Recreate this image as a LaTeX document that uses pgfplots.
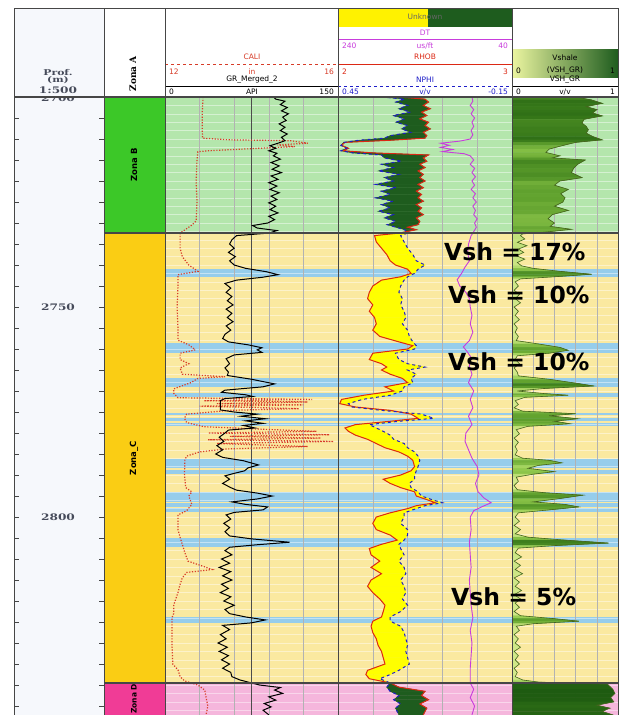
\documentclass[border=0pt]{standalone}
\usepackage{pgfplots}
\usepackage{pgfplotstable}
\pgfplotsset{compat=1.18}
\usepackage{fontspec}
\setmainfont{DejaVu Sans}
\newfontfamily\serifb{DejaVu Serif}

\definecolor{bgB}{RGB}{180,230,172}
\definecolor{bgC}{RGB}{250,233,160}
\definecolor{bgD}{RGB}{245,182,220}
\definecolor{band}{RGB}{150,205,235}
\definecolor{znB}{RGB}{60,200,40}
\definecolor{znC}{RGB}{250,205,20}
\definecolor{znD}{RGB}{240,60,150}
\definecolor{calic}{RGB}{215,60,40}
\definecolor{rhobc}{RGB}{220,40,20}
\definecolor{nphic}{RGB}{30,30,200}
\definecolor{dtc}{RGB}{200,60,220}
\definecolor{shgreen}{RGB}{30,92,30}
\definecolor{vshline}{RGB}{70,100,30}
\definecolor{framec}{RGB}{70,70,70}
\definecolor{depthc}{RGB}{70,75,90}
\definecolor{depthbg}{RGB}{246,248,252}
\definecolor{vshlight}{RGB}{235,245,160}

% GR (API)
\pgfplotstableread{
d gr
2700.0 94
2700.5 96
2701.0 104
2701.8 100
2702.5 106
2703.3 101
2704.0 107
2704.8 102
2705.6 105
2706.4 99
2707.2 104
2708.0 100
2708.8 106
2709.6 101
2710.4 104
2711.0 98
2711.6 91
2712.2 96
2712.8 90
2713.4 97
2714.0 94
2714.8 100
2715.6 92
2716.4 99
2717.2 93
2718.0 101
2718.8 92
2719.6 98
2720.4 90
2721.2 97
2722.0 91
2722.8 99
2723.6 92
2724.4 97
2725.2 90
2726.0 96
2726.8 91
2727.6 98
2728.4 90
2729.2 95
2730.0 89
2730.6 76
2731.2 80
2731.8 97
2732.4 90
2733.0 62
2734.0 58
2735.0 56
2736.0 60
2737.0 55
2738.0 61
2739.0 56
2740.0 60
2740.8 70
2741.6 88
2742.3 98
2742.9 85
2743.6 62
2744.4 52
2745.5 57
2746.5 53
2747.5 58
2748.5 54
2749.5 59
2750.5 53
2751.5 58
2752.5 54
2753.5 59
2754.5 53
2755.5 57
2756.5 52
2757.5 50
2758.3 55
2759.0 72
2759.7 84
2760.2 80
2760.8 84
2761.4 60
2762.3 53
2763.5 56
2764.5 52
2765.5 55
2766.3 54
2767.2 75
2768.3 95
2769.0 85
2769.8 52
2770.3 49
2770.9 70
2771.3 76
2771.8 52
2772.3 48
2773.5 48
2774.5 48
2775.0 60
2775.5 80
2776.0 66
2776.6 87
2777.1 70
2777.7 85
2778.2 68
2778.8 78
2779.3 55
2780.0 52
2781.0 47
2782.0 51
2783.0 45
2784.0 50
2785.0 44
2785.8 50
2786.6 68
2787.6 81
2788.3 72
2789.0 69
2789.6 60
2790.2 52
2791.0 56
2792.0 50
2793.0 57
2793.6 62
2794.3 80
2795.0 93
2795.7 80
2796.4 58
2797.0 70
2797.6 89
2798.3 85
2798.9 60
2799.5 53
2800.5 57
2801.5 51
2802.5 56
2803.5 52
2804.5 56
2805.2 75
2806.0 108
2806.6 80
2807.2 56
2808.0 52
2809.0 58
2810.0 49
2811.0 56
2812.0 47
2813.0 57
2814.0 50
2815.0 58
2816.0 49
2817.0 55
2818.0 48
2819.0 57
2820.0 51
2821.0 60
2822.0 52
2823.0 56
2823.8 70
2824.5 87
2825.2 75
2825.8 50
2826.8 56
2828.0 48
2829.0 53
2830.0 46
2831.0 54
2832.0 47
2833.0 55
2834.0 49
2835.0 56
2836.0 50
2837.0 57
2838.0 58
2838.8 65
2839.5 75
2840.0 82
2840.6 100
2841.2 95
2842.0 102
2842.8 90
2843.6 96
2844.4 86
2845.2 92
2846.0 85
2847.1 90
}\grtab

% CALI (in)
\pgfplotstableread{
d cali
2700.0 12.88
2704.0 12.86
2708.0 12.86
2709.8 12.87
2710.2 13.50
2710.4 14.90
2711.0 15.30
2711.4 14.60
2711.8 15.00
2712.3 14.00
2712.8 13.00
2713.0 12.76
2715.0 12.74
2720.0 12.72
2725.0 12.74
2729.5 12.72
2730.5 12.62
2732.4 12.35
2736.0 12.35
2738.0 12.40
2740.0 12.55
2741.5 12.76
2742.3 12.30
2745.0 12.30
2750.0 12.28
2755.0 12.30
2757.9 12.30
2759.0 12.55
2760.2 12.70
2761.0 12.35
2762.5 12.35
2763.5 12.55
2764.5 12.35
2766.0 12.40
2766.6 13.39
2767.0 12.76
2768.0 12.60
2769.5 12.20
2770.5 12.20
2771.6 12.30
2772.0 15.40
2772.3 12.90
2772.6 15.30
2773.0 13.20
2773.3 15.20
2773.6 12.80
2774.2 15.10
2774.6 13.50
2775.5 12.50
2776.5 12.45
2777.5 12.50
2778.5 12.90
2779.2 14.50
2779.6 15.50
2780.0 13.00
2780.4 15.80
2780.8 13.50
2781.2 15.60
2781.6 13.00
2782.0 15.90
2782.5 13.20
2783.2 15.30
2783.8 13.40
2784.5 12.80
2785.5 12.50
2786.4 12.46
2790.0 12.45
2793.0 12.48
2794.0 12.62
2795.0 12.55
2797.0 12.62
2798.5 12.50
2799.5 12.30
2803.0 12.30
2805.2 12.36
2806.5 12.40
2808.5 12.46
2810.5 12.53
2811.8 12.90
2812.5 13.09
2813.2 12.50
2814.5 12.40
2816.0 12.35
2818.0 12.30
2821.0 12.20
2823.0 12.20
2824.0 12.16
2830.0 12.16
2835.0 12.18
2836.4 12.30
2838.0 12.35
2839.0 12.45
2840.0 12.76
2841.2 12.92
2843.0 12.95
2845.0 12.99
2847.1 12.95
}\calitab

% RHOB (g/cc) and NPHI (v/v)
\pgfplotstableread{
d rhob nphi
2700.0 2.35 0.30
2700.5 2.50 0.22
2701.2 2.52 0.25
2702.0 2.49 0.21
2702.8 2.53 0.24
2703.6 2.48 0.20
2704.4 2.51 0.26
2705.2 2.47 0.22
2706.0 2.52 0.25
2706.8 2.50 0.21
2707.6 2.53 0.23
2708.4 2.49 0.20
2709.2 2.51 0.27
2709.8 2.50 0.29
2710.3 2.30 0.38
2710.8 2.04 0.43
2711.5 2.02 0.44
2712.2 2.06 0.42
2712.8 2.03 0.44
2713.3 2.20 0.40
2713.8 2.52 0.30
2714.5 2.49 0.29
2715.3 2.51 0.23
2716.0 2.47 0.30
2716.8 2.50 0.26
2717.6 2.46 0.31
2718.4 2.49 0.24
2719.2 2.47 0.29
2720.0 2.50 0.26
2720.8 2.46 0.32
2721.6 2.49 0.25
2722.4 2.45 0.30
2723.2 2.48 0.27
2724.0 2.46 0.32
2724.8 2.49 0.26
2725.6 2.45 0.30
2726.4 2.48 0.27
2727.2 2.46 0.31
2728.0 2.49 0.26
2728.8 2.45 0.29
2729.6 2.47 0.25
2730.4 2.46 0.28
2731.0 2.40 0.25
2731.6 2.45 0.22
2732.4 2.35 0.21
2733.0 2.21 0.234
2734.5 2.22 0.222
2736.0 2.25 0.21
2737.5 2.28 0.192
2739.0 2.30 0.18
2740.0 2.33 0.15
2741.0 2.40 0.174
2742.0 2.42 0.186
2742.8 2.36 0.21
2743.6 2.25 0.222
2745.0 2.20 0.234
2746.5 2.18 0.24
2748.0 2.17 0.228
2749.5 2.20 0.234
2751.0 2.18 0.222
2752.5 2.21 0.216
2754.0 2.22 0.228
2755.5 2.20 0.21
2757.0 2.24 0.204
2758.3 2.35 0.192
2759.2 2.43 0.18
2760.0 2.40 0.186
2761.0 2.20 0.252
2762.5 2.18 0.24
2763.5 2.25 0.21
2764.3 2.28 0.15
2765.0 2.25 0.21
2766.0 2.30 0.18
2767.0 2.37 0.198
2768.0 2.40 0.192
2769.0 2.27 0.222
2770.0 2.32 0.228
2771.0 2.15 0.27
2772.0 2.02 0.366
2773.0 2.01 0.414
2773.8 2.10 0.402
2774.6 2.30 0.30
2775.5 2.42 0.162
2776.5 2.46 0.12
2777.2 2.30 0.24
2778.0 2.10 0.342
2778.8 2.04 0.318
2779.6 2.06 0.294
2780.5 2.10 0.27
2781.5 2.17 0.258
2782.5 2.22 0.222
2783.5 2.27 0.21
2784.5 2.35 0.186
2785.5 2.40 0.174
2786.5 2.43 0.168
2788.0 2.44 0.174
2789.0 2.42 0.18
2790.0 2.36 0.186
2791.0 2.26 0.186
2792.0 2.30 0.204
2793.0 2.36 0.198
2794.0 2.44 0.174
2795.0 2.45 0.162
2796.0 2.52 0.12
2796.6 2.56 0.09
2797.3 2.45 0.15
2798.0 2.40 0.18
2799.0 2.30 0.222
2800.0 2.22 0.222
2801.5 2.20 0.234
2803.0 2.22 0.21
2804.3 2.30 0.21
2805.5 2.34 0.222
2806.5 2.25 0.24
2807.5 2.18 0.234
2809.0 2.19 0.222
2810.5 2.24 0.24
2812.0 2.19 0.222
2813.5 2.25 0.216
2815.0 2.19 0.234
2816.5 2.17 0.222
2818.0 2.20 0.216
2819.5 2.24 0.228
2821.0 2.27 0.21
2822.5 2.26 0.234
2823.8 2.25 0.27
2824.8 2.20 0.27
2826.0 2.19 0.234
2827.5 2.20 0.222
2829.0 2.22 0.216
2830.5 2.23 0.21
2832.0 2.25 0.216
2833.5 2.26 0.21
2835.0 2.27 0.204
2836.5 2.17 0.24
2837.5 2.16 0.27
2838.5 2.18 0.306
2839.5 2.30 0.27
2840.5 2.35 0.282
2841.5 2.50 0.27
2842.5 2.48 0.24
2843.5 2.52 0.258
2844.5 2.47 0.234
2845.5 2.51 0.252
2847.1 2.49 0.24
}\rntab
% two-row mesh: row 1 = RHOB position, row 2 = NPHI position (track-2 scale 0..1)
\pgfplotstablegetrowsof{\rntab}\edef\nrn{\pgfplotsretval}
\pgfplotstablevertcat{\rnall}{\rntab}
\pgfplotstablevertcat{\rnall}{\rntab}
\pgfplotstablecreatecol[create col/expr={\pgfplotstablerow<\nrn ? \thisrow{rhob}-2 : (0.45-\thisrow{nphi})/0.6}]{xx}\rnall
\pgfplotstablecreatecol[create col/expr={\thisrow{d}<2732.35 ? 0 : (\thisrow{d}<2732.45 ? 0.5 : (\thisrow{d}<2839.45 ? 1 : (\thisrow{d}<2839.55 ? 0.5 : 0)))}]{zf}\rnall

% DT (us/ft)
\pgfplotstableread{
d dt
2700.0 86
2701.0 85
2702.0 88
2703.0 84
2704.0 87
2705.0 83
2706.0 86
2707.0 84
2708.0 87
2709.0 85
2710.0 88
2710.5 100
2711.0 122
2711.5 112
2712.0 122
2712.5 108
2713.0 120
2713.5 95
2714.0 88
2715.0 84
2716.0 88
2717.0 83
2718.0 86
2719.0 82
2720.0 86
2721.0 83
2722.0 87
2723.0 82
2724.0 85
2725.0 81
2726.0 85
2727.0 82
2728.0 84
2729.0 80
2730.0 83
2731.0 81
2732.4 85
2733.0 87
2735.0 90
2737.0 91
2739.0 89
2740.5 94
2742.0 98
2743.5 103
2745.0 100
2746.5 93
2748.0 89
2750.0 88
2752.0 86
2754.0 88
2756.0 85
2758.0 89
2759.5 96
2760.5 92
2762.0 87
2764.0 89
2766.0 86
2768.0 90
2770.0 84
2772.0 88
2774.0 85
2776.0 90
2778.0 86
2780.0 93
2782.0 94
2784.0 90
2786.0 86
2788.0 80
2790.0 78
2792.0 82
2794.0 79
2795.5 72
2796.6 64
2797.5 74
2798.5 84
2800.0 88
2803.0 87
2806.0 89
2809.0 88
2812.0 87
2815.0 89
2818.0 88
2821.0 87
2824.0 85
2827.0 88
2830.0 86
2833.0 87
2836.0 88
2839.5 88
2841.0 84
2843.0 88
2845.0 83
2847.1 86
}\dttab

% VSH_GR (v/v)
\pgfplotstableread{
d v
2700.0 0.60
2700.7 0.75
2701.5 0.85
2702.3 0.70
2703.0 0.80
2703.8 0.76
2704.5 0.85
2705.3 0.68
2706.2 0.66
2707.0 0.70
2707.8 0.72
2708.6 0.70
2709.4 0.76
2710.2 0.85
2710.8 0.60
2711.6 0.47
2712.4 0.35
2713.2 0.32
2714.0 0.45
2714.5 0.38
2715.0 0.69
2716.0 0.62
2717.0 0.58
2718.0 0.56
2719.2 0.66
2720.0 0.45
2721.0 0.40
2722.0 0.53
2723.0 0.46
2724.0 0.50
2725.0 0.48
2726.0 0.40
2727.0 0.53
2728.0 0.38
2729.0 0.34
2730.0 0.40
2730.8 0.36
2731.5 0.56
2732.2 0.30
2732.6 0.10
2733.0 0.08
2733.8 0.12
2734.6 0.05
2735.4 0.14
2736.2 0.06
2737.0 0.11
2737.8 0.04
2738.6 0.12
2739.4 0.05
2740.2 0.09
2740.8 0.20
2741.5 0.45
2742.2 0.75
2742.8 0.40
2743.3 0.08
2744.0 0.03
2745.0 0.06
2746.0 0.02
2747.0 0.07
2748.0 0.03
2749.0 0.08
2750.0 0.02
2751.0 0.06
2752.0 0.03
2753.0 0.07
2754.0 0.02
2755.0 0.05
2756.0 0.03
2757.0 0.06
2758.0 0.04
2758.8 0.25
2759.6 0.45
2760.3 0.53
2761.0 0.35
2761.6 0.05
2762.5 0.03
2763.5 0.07
2764.5 0.02
2765.5 0.05
2766.4 0.06
2767.2 0.35
2768.2 0.62
2768.8 0.77
2769.4 0.30
2770.0 0.05
2770.6 0.30
2771.0 0.53
2771.5 0.12
2772.3 0.03
2773.2 0.06
2774.0 0.02
2774.8 0.10
2775.4 0.60
2775.9 0.35
2776.6 0.62
2777.2 0.40
2777.8 0.55
2778.4 0.15
2779.2 0.04
2780.2 0.07
2781.2 0.02
2782.2 0.06
2783.2 0.03
2784.2 0.05
2785.2 0.03
2786.0 0.10
2786.5 0.35
2787.1 0.47
2787.7 0.25
2788.4 0.15
2789.2 0.40
2789.8 0.20
2790.5 0.04
2791.5 0.06
2792.5 0.02
2793.5 0.05
2794.2 0.30
2794.8 0.67
2795.6 0.45
2796.4 0.20
2797.0 0.50
2797.6 0.63
2798.3 0.35
2799.0 0.06
2800.0 0.03
2801.0 0.07
2802.0 0.02
2803.0 0.08
2804.0 0.03
2804.8 0.15
2805.5 0.50
2806.2 0.91
2806.8 0.40
2807.4 0.06
2808.5 0.03
2809.5 0.09
2810.5 0.02
2811.5 0.08
2812.5 0.03
2813.5 0.10
2814.5 0.02
2815.5 0.07
2816.5 0.03
2817.5 0.09
2818.5 0.02
2819.5 0.08
2820.5 0.03
2821.5 0.07
2822.5 0.02
2823.5 0.08
2824.2 0.40
2824.8 0.63
2825.4 0.20
2826.0 0.04
2827.0 0.07
2828.0 0.02
2829.0 0.06
2830.0 0.03
2831.0 0.08
2832.0 0.02
2833.0 0.06
2834.0 0.03
2835.0 0.07
2836.0 0.02
2837.0 0.05
2838.0 0.03
2838.8 0.10
2839.3 0.25
2839.8 0.90
2841.0 0.95
2842.0 0.97
2843.0 0.93
2844.0 0.96
2844.8 0.80
2845.5 0.92
2846.3 0.85
2847.1 0.95
}\vshA
\pgfplotstablegetrowsof{\vshA}\edef\nvsh{\pgfplotsretval}
\pgfplotstablevertcat{\vshall}{\vshA}
\pgfplotstablevertcat{\vshall}{\vshA}
\pgfplotstablecreatecol[create col/expr={\pgfplotstablerow<\nvsh ? 0 : \thisrow{v}}]{xx}\vshall

\pgfplotsset{trk/.style={anchor=north west, scale only axis, height=618pt,
  ymin=2700, ymax=2847.14, y dir=reverse, hide axis, clip=true}}

\begin{document}
\begin{tikzpicture}
\useasboundingbox (0pt,0pt) rectangle (622pt,-715pt);
\begin{scope}[x=1pt,y=-1pt]
 \fill[white] (0,0) rectangle (622,715);
 \fill[depthbg] (14,8) rectangle (104,715);
\end{scope}

% zone backgrounds and water bands
\begin{axis}[trk, at={(165pt,-97pt)}, width=453pt, xmin=0, xmax=1]
 \addplot[draw=none, fill=bgB] coordinates {(0,2700) (1,2700) (1,2732.4) (0,2732.4)} -- cycle;
 \addplot[draw=none, fill=bgC] coordinates {(0,2732.4) (1,2732.4) (1,2839.5) (0,2839.5)} -- cycle;
 \addplot[draw=none, fill=bgD] coordinates {(0,2839.5) (1,2839.5) (1,2848) (0,2848)} -- cycle;
 \addplot[draw=none, fill=band] coordinates {(0,2741.0) (1,2741.0) (1,2742.9) (0,2742.9)} -- cycle;
 \addplot[draw=none, fill=band] coordinates {(0,2758.6) (1,2758.6) (1,2761.0) (0,2761.0)} -- cycle;
 \addplot[draw=none, fill=band] coordinates {(0,2766.9) (1,2766.9) (1,2769.0) (0,2769.0)} -- cycle;
 \addplot[draw=none, fill=band] coordinates {(0,2770.5) (1,2770.5) (1,2771.4) (0,2771.4)} -- cycle;
 \addplot[draw=none, fill=band] coordinates {(0,2775.2) (1,2775.2) (1,2775.7) (0,2775.7)} -- cycle;
 \addplot[draw=none, fill=band] coordinates {(0,2776.4) (1,2776.4) (1,2777.1) (0,2777.1)} -- cycle;
 \addplot[draw=none, fill=band] coordinates {(0,2777.6) (1,2777.6) (1,2778.3) (0,2778.3)} -- cycle;
 \addplot[draw=none, fill=band] coordinates {(0,2786.2) (1,2786.2) (1,2788.3) (0,2788.3)} -- cycle;
 \addplot[draw=none, fill=band] coordinates {(0,2788.8) (1,2788.8) (1,2789.8) (0,2789.8)} -- cycle;
 \addplot[draw=none, fill=band] coordinates {(0,2794.0) (1,2794.0) (1,2796.4) (0,2796.4)} -- cycle;
 \addplot[draw=none, fill=band] coordinates {(0,2796.7) (1,2796.7) (1,2797.6) (0,2797.6)} -- cycle;
 \addplot[draw=none, fill=band] coordinates {(0,2797.9) (1,2797.9) (1,2798.8) (0,2798.8)} -- cycle;
 \addplot[draw=none, fill=band] coordinates {(0,2805.0) (1,2805.0) (1,2807.1) (0,2807.1)} -- cycle;
 \addplot[draw=none, fill=band] coordinates {(0,2823.8) (1,2823.8) (1,2825.2) (0,2825.2)} -- cycle;
\end{axis}

% grid
\begin{scope}[x=1pt,y=-1pt]
 \foreach \k in {1,...,73} \draw[white, opacity=0.45, line width=0.5pt] (165,{97+8.4*\k}) -- (618,{97+8.4*\k});
 \foreach \x in {199.6,234.2,268.8,303.4,372.8,407.6,442.4,477.2,533.2,554.4,575.6,596.8}
   \draw[black!30, line width=0.6pt] (\x,97) -- (\x,715);
 \draw[black!70, line width=0.9pt] (251.5,97) -- (251.5,715);
\end{scope}

% Track 1: GR and CALI
\begin{axis}[trk, at={(165pt,-97pt)}, width=173pt, xmin=0, xmax=150]
 \addplot[calic, line width=1.2pt, dash pattern=on 1.2pt off 1.6pt] table[x expr={(\thisrow{cali}-12)*37.5}, y=d]{\calitab};
 \addplot[black, line width=1pt] table[x=gr, y=d]{\grtab};
\end{axis}

% Track 2: RHOB, NPHI, DT
\begin{axis}[trk, at={(338pt,-97pt)}, width=174pt, xmin=0, xmax=1,
  colormap={gy}{color=(shgreen) color=(yellow)}, colormap access=piecewise constant,
  point meta min=0, point meta max=1]
 \addplot[surf, shader=flat mean, mesh/cols=\nrn, point meta=explicit]
   table[x=xx, y=d, meta=zf]{\rnall};
 \addplot[rhobc, line width=1pt] table[x expr={\thisrow{rhob}-2}, y=d]{\rntab};
 \addplot[nphic, dashed, line width=1pt] table[x expr={(0.45-\thisrow{nphi})/0.6}, y=d]{\rntab};
 \addplot[dtc, line width=0.9pt] table[x expr={(240-\thisrow{dt})/200}, y=d]{\dttab};
\end{axis}

% Track 3: Vshale
\begin{axis}[trk, at={(512pt,-97pt)}, width=106pt, xmin=0, xmax=1,
  colormap={vshmap}{rgb255=(222,238,150) rgb255=(150,205,80) rgb255=(95,160,45) rgb255=(55,120,25) rgb255=(25,85,15)},
  point meta min=0, point meta max=1]
 \addplot[surf, shader=flat mean, mesh/cols=\nvsh, point meta=explicit]
   table[x=xx, y=d, meta=v]{\vshall};
 \addplot[vshline, line width=0.6pt] table[x=v, y=d]{\vshA};
\end{axis}

\begin{scope}[x=1pt,y=-1pt, every node/.style={font=\fontsize{7.5}{8}\selectfont, inner sep=1pt}]
 % header background
 \fill[white] (104,8) rectangle (618,97);
 \fill[depthbg] (14,8) rectangle (104,97);
 \fill[yellow] (338,8) rectangle (428,27);
 \fill[shgreen] (428,8) rectangle (512,27);
 \node[text=black!60] at (425,17) {Unknown};
 \shade[left color=vshlight, right color=shgreen] (512,49) rectangle (618,77);
 % track 1 header
 \node[calic] at (252,57) {CALI};
 \draw[calic, dashed, line width=1pt] (165,64) -- (338,64);
 \node[calic, anchor=west] at (168,71.5) {12};
 \node[calic] at (252,71.5) {in};
 \node[calic, anchor=east] at (335,71.5) {16};
 \node at (252,80) {GR\_Merged\_2};
 \draw[black, line width=1pt] (165,86) -- (338,86);
 \node[anchor=west] at (168,92) {0};
 \node at (252,92) {API};
 \node[anchor=east] at (335,92) {150};
 % track 2 header
 \node[dtc] at (425,33) {DT};
 \draw[dtc, line width=1pt] (338,39.5) -- (512,39.5);
 \node[dtc, anchor=west] at (341,45.5) {240};
 \node[dtc] at (425,45.5) {us/ft};
 \node[dtc, anchor=east] at (509,45.5) {40};
 \node[rhobc] at (425,57) {RHOB};
 \draw[rhobc, line width=1pt] (338,64) -- (512,64);
 \node[rhobc, anchor=west] at (341,71.5) {2};
 \node[rhobc, anchor=east] at (509,71.5) {3};
 \node[nphic] at (425,80) {NPHI};
 \draw[nphic, dashed, line width=1pt] (338,86) -- (512,86);
 \node[nphic, anchor=west] at (341,92) {0.45};
 \node[nphic] at (425,92) {v/v};
 \node[nphic, anchor=east] at (509,92) {-0.15};
 % track 3 header
 \node at (565,58) {Vshale};
 \node[anchor=west] at (515,71) {0};
 \node at (565,71) {(VSH\_GR)};
 \node[anchor=east] at (616,71) {1};
 \node at (565,80) {VSH\_GR};
 \draw[black, line width=1pt] (512,86) -- (618,86);
 \node[anchor=west] at (515,92) {0};
 \node at (565,92) {v/v};
 \node[anchor=east] at (616,92) {1};
 % depth header
 \node[depthc, xscale=1.35, font=\serifb\bfseries\fontsize{8}{8}\selectfont, inner sep=0pt] at (58,72.5) {Prof.};
 \node[depthc, xscale=1.35, font=\serifb\bfseries\fontsize{8}{8}\selectfont, inner sep=0pt] at (58,80.5) {(m)};
 \node[depthc, xscale=1.35, font=\serifb\bfseries\fontsize{9}{9}\selectfont, inner sep=0pt] at (58,90.5) {1:500};
 \node[rotate=90, font=\serifb\bfseries\fontsize{9}{9}\selectfont] at (133,74) {Zona A};
 % zone column
 \fill[znB] (104,97) rectangle (165,233);
 \fill[znC] (104,233) rectangle (165,683);
 \fill[znD] (104,683) rectangle (165,715);
 \node[rotate=90, font=\bfseries\fontsize{8.5}{9}\selectfont] at (134,165) {Zona B};
 \node[rotate=90, font=\bfseries\fontsize{8.5}{9}\selectfont] at (134,458) {Zona\_C};
 \node[rotate=90, font=\bfseries\fontsize{7.5}{8}\selectfont] at (134,699) {Zona D};
 % depth column
 \foreach \k in {1,...,29} {
   \draw[framec] (14,{97+21*\k}) -- ++(5,0);
   \draw[framec] (104,{97+21*\k}) -- ++(-5,0);
 }
 \begin{scope}
  \clip (14,98) rectangle (104,130);
  \node[depthc, xscale=1.35, font=\serifb\bfseries\fontsize{9}{9}\selectfont, inner sep=0pt] at (58,98.5) {2700};
 \end{scope}
 \node[depthc, xscale=1.35, font=\serifb\bfseries\fontsize{9}{9}\selectfont] at (58,307) {2750};
 \node[depthc, xscale=1.35, font=\serifb\bfseries\fontsize{9}{9}\selectfont] at (58,517) {2800};
 % borders
 \draw[framec, line width=1pt] (14,8) rectangle (618,715);
 \foreach \x in {104,165,338,512} \draw[framec, line width=1pt] (\x,8) -- (\x,715);
 \draw[framec, line width=1.5pt] (14,97) -- (618,97);
 \draw[framec, line width=1.2pt] (104,233) -- (618,233);
 \draw[framec, line width=1.2pt] (104,683) -- (618,683);
 % annotations
 \node[anchor=base west, font=\bfseries\fontsize{23.5}{24}\selectfont] at (443,260) {Vsh = 17\%};
 \node[anchor=base west, font=\bfseries\fontsize{23.5}{24}\selectfont] at (447,303) {Vsh = 10\%};
 \node[anchor=base west, font=\bfseries\fontsize{23.5}{24}\selectfont] at (447,370) {Vsh = 10\%};
 \node[anchor=base west, font=\bfseries\fontsize{23.5}{24}\selectfont] at (450,605) {Vsh = 5\%};
\end{scope}
\end{tikzpicture}
\end{document}
